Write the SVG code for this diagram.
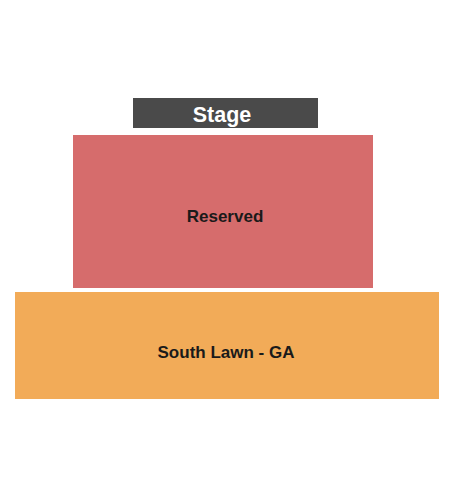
<svg xmlns="http://www.w3.org/2000/svg" width="450" height="500" viewBox="0 0 450 500">
<style>
text{font-family:"Liberation Sans",Arial,sans-serif;font-weight:bold;text-anchor:middle}
.lbl{font-size:17px;fill:#1a1a1a}
</style>
<rect width="450" height="500" fill="#ffffff"/>
<g id="stage">
<rect x="133" y="98" width="185" height="30" fill="#4a4a4a"/>
<text x="222" y="122" font-size="21.5" fill="#ffffff">Stage</text>
</g>
<g id="reserved">
<rect x="73" y="135" width="300" height="153" fill="#d66c6c"/>
<text class="lbl" x="225" y="222">Reserved</text>
</g>
<g id="south-lawn">
<rect x="15" y="292" width="424" height="107" fill="#f2ab58"/>
<text class="lbl" x="226" y="358">South Lawn - GA</text>
</g>
<g id="connectors"/>
</svg>
